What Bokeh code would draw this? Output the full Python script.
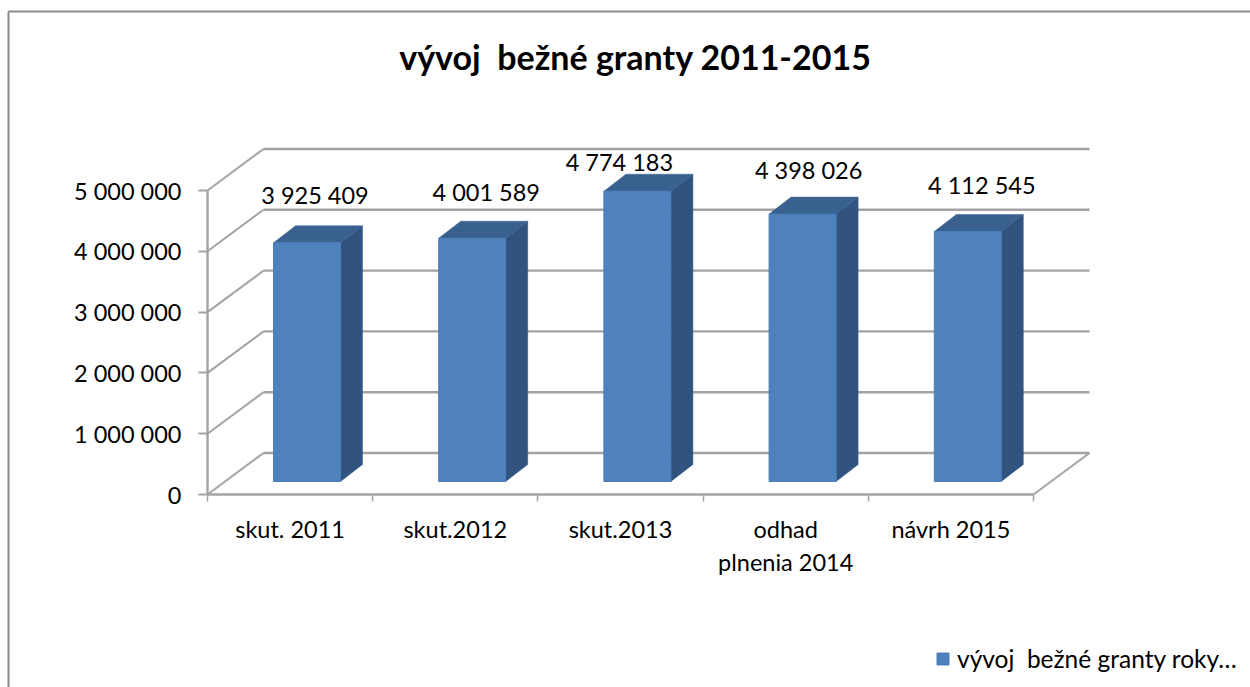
from bokeh.plotting import figure
from bokeh.embed import file_html
from bokeh.resources import INLINE
from bokeh.models import (ColumnDataSource, FixedTicker, Range1d, Legend, LegendItem,
                          LinearAxis)
from bokeh.core.properties import value as val

categories = ["skut. 2011", "skut.2012", "skut.2013", "odhad\nplnenia 2014", "návrh 2015"]
values = [3925409, 4001589, 4774183, 4398026, 4112545]
labels = ["3 925 409", "4 001 589", "4 774 183", "4 398 026", "4 112 545"]
y_ticks = [0, 1000000, 2000000, 3000000, 4000000, 5000000]
y_tick_labels = ["0", "1 000 000", "2 000 000", "3 000 000", "4 000 000", "5 000 000"]
title_text = "vývoj \u00a0bežné granty 2011-2015"
legend_text = "vývoj \u00a0bežné granty roky…"

FONT = "Lato"
GRID = "#a3a3a3"
W, H = 1250, 687
X0, Y0 = 207, 494     # canvas position of the corner of the front floor
PX_X = 165.2          # pixels per category
PX_Y = 60.8 / 1e6     # pixels per unit of value

# depth of the pseudo 3D wall and of the bars, in pixels
wall_dx, wall_dy = 56, 41.5
bar_dx, bar_dy = 22, 17
bar_left_px, bar_w_px, bar_base_px = 66, 67, 13
label_dx = [8, 14, -18, 6, 14]
label_dy = [48, 46, 29, 44, 46]
axis_gap = 4          # the axes sit this many pixels outside the drawn box edges

xd = lambda px: px / PX_X
yd = lambda px: px / PX_Y

p = figure(width=W, height=H, output_backend="svg", toolbar_location=None,
           x_range=Range1d(xd(-X0), xd(W - X0)), y_range=Range1d(yd(Y0 - H), yd(Y0)),
           x_axis_location=None, y_axis_location=None,
           min_border=0, background_fill_color="white", border_fill_color="white",
           outline_line_color=None)
p.grid.visible = False

# chart frame (runs off the right and bottom of the picture)
p.segment(x0=[xd(8 - X0), xd(8 - X0)], x1=[xd(8 - X0), xd(W - X0)],
          y0=[yd(Y0 - 11), yd(Y0 - 11)], y1=[yd(Y0 - H), yd(Y0 - 11)],
          line_color="#8a8a8a", line_width=2)

# walls: gridlines on the back, diagonals down the side wall
n = len(categories)
p.segment(x0=[xd(wall_dx)] * len(y_ticks), x1=[n + xd(wall_dx)] * len(y_ticks),
          y0=[v + yd(wall_dy) for v in y_ticks], y1=[v + yd(wall_dy) for v in y_ticks],
          line_color=GRID, line_width=2.4)
p.segment(x0=[0] * len(y_ticks), x1=[xd(wall_dx)] * len(y_ticks),
          y0=y_ticks, y1=[v + yd(wall_dy) for v in y_ticks],
          line_color=GRID, line_width=2)
p.segment(x0=[n], x1=[n + xd(wall_dx)], y0=[0], y1=[yd(wall_dy)], line_color=GRID, line_width=2)

# front edges of the box
p.segment(x0=[xd(0.01), 0.0], x1=[xd(0.01), float(n)],
          y0=[0.0, yd(0.01)], y1=[float(y_ticks[-1]), yd(0.01)],
          line_color=GRID, line_width=2.4)

# bars
lefts = [i + xd(bar_left_px) for i in range(n)]
rights = [l + xd(bar_w_px) for l in lefts]
base = yd(bar_base_px)
tops = [base + v for v in values]
ddx, ddy = xd(bar_dx), yd(bar_dy)
p.patches(xs=[[r, r + ddx, r + ddx, r] for r in rights],
          ys=[[base, base + ddy, t + ddy, t] for t in tops],
          fill_color="#30547f", line_color="#30547f", line_width=0.5)
p.patches(xs=[[l, r, r + ddx, l + ddx] for l, r in zip(lefts, rights)],
          ys=[[t, t, t + ddy, t + ddy] for t in tops],
          fill_color="#38618f", line_color="#38618f", line_width=0.5)
front = p.quad(left=lefts, right=rights, bottom=base, top=tops,
               fill_color="#4f81bd", line_color="#4a7cb8", line_width=1)

# data labels
src = ColumnDataSource(dict(x=[(l + r + ddx) / 2 - xd(11) + xd(d) for l, r, d in zip(lefts, rights, label_dx)],
                            y=[t + yd(d) for t, d in zip(tops, label_dy)], text=labels))
p.text(x="x", y="y", text="text", source=src, text_font=val(FONT), text_font_size="23.5px",
       text_color="#000000", text_align="center", text_baseline="middle")

# axes
ax = LinearAxis(fixed_location=xd(-axis_gap), ticker=FixedTicker(ticks=y_ticks),
                major_label_overrides=dict(zip(y_ticks, y_tick_labels)), bounds=(0, 5000000),
                axis_line_color=None,
                major_tick_line_color=GRID, major_tick_line_width=2,
                major_tick_out=9 - axis_gap, major_tick_in=axis_gap, minor_tick_line_color=None,
                major_label_standoff=17, major_label_text_font=FONT,
                major_label_text_font_size="23.5px", major_label_text_color="#000000")
p.add_layout(ax, "left")

centers = [i + 0.5 for i in range(n)]
bx = LinearAxis(fixed_location=yd(-axis_gap), ticker=FixedTicker(ticks=centers, minor_ticks=list(range(n + 1))),
                major_label_overrides=dict(zip(centers, categories)), bounds=(0, n),
                axis_line_color=None,
                major_tick_line_color=None, major_tick_out=14 - axis_gap,
                minor_tick_line_color=GRID, minor_tick_line_width=1.5,
                minor_tick_out=7 - axis_gap, minor_tick_in=axis_gap,
                major_label_standoff=6, major_label_text_font=FONT,
                major_label_text_font_size="23.5px", major_label_text_color="#000000")
p.add_layout(bx, "below")

# title
title_x = xd(635 - X0)
title_y = yd(Y0 - 56)
p.text(x=[title_x], y=[title_y], text=[title_text], text_font=val(FONT), text_font_style="bold",
       text_font_size="34px", text_color="#000000", text_align="center", text_baseline="middle")

# legend
lg = Legend(items=[LegendItem(label=legend_text, renderers=[front], index=0)],
            location=(935, 14), orientation="horizontal",
            background_fill_alpha=0, border_line_color=None,
            glyph_width=15, glyph_height=15, label_standoff=7, padding=0, margin=0,
            label_height=15, label_text_font=FONT, label_text_font_size="24.5px",
            label_text_color="#000000")
p.add_layout(lg, "center")

open("out.html", "w").write(file_html(p, INLINE))
